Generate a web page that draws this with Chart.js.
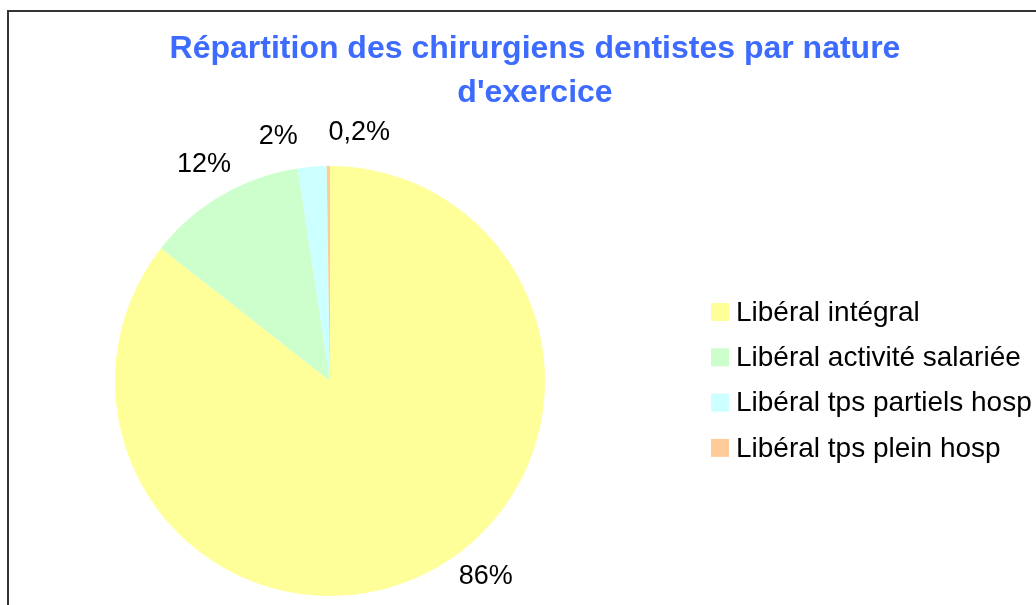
<!DOCTYPE html>
<html>
<head>
<meta charset="utf-8">
<script src="https://cdn.jsdelivr.net/npm/chart.js@4/dist/chart.umd.min.js"></script>
<style>
  html, body { margin: 0; padding: 0; background: #fff; overflow: hidden; }
  #wrap { position: relative; width: 1036px; height: 605px; }
  #frame { position: absolute; left: 7px; top: 10px; width: 1100px; height: 700px; border: 2px solid #333; }
  #chart { position: absolute; left: 0; top: 0; }
</style>
</head>
<body>
<div id="wrap">
  <div id="frame"></div>
  <canvas id="chart" width="1036" height="605"></canvas>
</div>
<script>
// data
const categories = ['Libéral intégral', 'Libéral activité salariée', 'Libéral tps partiels hosp', 'Libéral tps plein hosp'];
const shares = [85.6, 12.0, 2.15, 0.25];
const shareLabels = ['86%', '12%', '2%', '0,2%'];
const sliceColors = ['#FFFF99', '#CCFFCC', '#CCFFFF', '#FFCC99'];
const titleLines = ['Répartition des chirurgiens dentistes par nature', "d'exercice"];

const FONT = '"Liberation Sans", Arial, sans-serif';

// title + legend drawn by hand so they sit where excel put them
const decorPlugin = {
  id: 'decor',
  afterDraw(chart) {
    const ctx = chart.ctx;
    ctx.save();
    ctx.fillStyle = '#3d6bff';
    ctx.font = 'bold 32px ' + FONT;
    ctx.textAlign = 'center';
    ctx.textBaseline = 'middle';
    titleLines.forEach((t, i) => ctx.fillText(t, 535, 49 + i * 44));

    ctx.font = '28px ' + FONT;
    ctx.textAlign = 'left';
    chart.data.labels.forEach((lab, i) => {
      let y = 312 + i * 45.3;
      ctx.fillStyle = chart.data.datasets[0].backgroundColor[i];
      ctx.fillRect(711, y - 9, 18, 18);
      ctx.fillStyle = '#000';
      ctx.fillText(lab, 736, y + 1);
    });
    ctx.restore();
  }
};

// percentage labels outside the pie, kept inside the canvas and apart from each other
const sliceLabelPlugin = {
  id: 'sliceLabels',
  afterDatasetsDraw(chart) {
    const ctx = chart.ctx;
    const meta = chart.getDatasetMeta(0);
    const H = chart.height;
    ctx.save();
    ctx.font = '27px ' + FONT;
    ctx.fillStyle = '#000';
    ctx.textAlign = 'center';
    ctx.textBaseline = 'middle';
    const h = 27;

    let items = meta.data.map((arc, i) => {
      const p = arc.getProps(['x', 'y', 'startAngle', 'endAngle', 'outerRadius'], true);
      return {
        text: shareLabels[i],
        w: ctx.measureText(shareLabels[i]).width,
        cx0: p.x, cy0: p.y,
        D: p.outerRadius + 35,
        a: (p.startAngle + p.endAngle) / 2
      };
    });

    function place(it) {
      it.x = it.cx0 + it.D * Math.cos(it.a);
      it.y = it.cy0 + it.D * Math.sin(it.a);
      if (it.y + h / 2 > H - 15) {
        it.y = H - 15 - h / 2;
        let dy = it.y - it.cy0;
        let dx = Math.sqrt(Math.max(0, it.D * it.D - dy * dy));
        it.x = it.cx0 + Math.sign(Math.cos(it.a)) * dx;
      }
    }
    items.forEach(place);

    for (let k = 0; k < 400; k++) {
      let moved = false;
      for (let i = 0; i < items.length; i++) {
        for (let j = i + 1; j < items.length; j++) {
          let A = items[i], B = items[j];
          let ox = Math.abs(A.x - B.x) < (A.w + B.w) / 2 + 30;
          let oy = Math.abs(A.y - B.y) < h;
          if (ox && oy) {
            A.a -= 0.005; B.a += 0.005;
            place(A); place(B);
            moved = true;
          }
        }
      }
      if (!moved) break;
    }

    items.forEach(it => ctx.fillText(it.text, it.x, it.y));
    ctx.restore();
  }
};

new Chart(document.getElementById('chart'), {
  type: 'pie',
  data: {
    labels: categories,
    datasets: [{
      data: shares,
      backgroundColor: sliceColors,
      borderWidth: 0,
      hoverOffset: 0,
      offset: 0
    }]
  },
  options: {
    responsive: false,
    animation: false,
    events: [],
    layout: { padding: { left: 115, top: 166, right: 491, bottom: 9 } },
    plugins: {
      legend: { display: false },
      title: { display: false },
      tooltip: { enabled: false }
    }
  },
  plugins: [decorPlugin, sliceLabelPlugin]
});
</script>
</body>
</html>
